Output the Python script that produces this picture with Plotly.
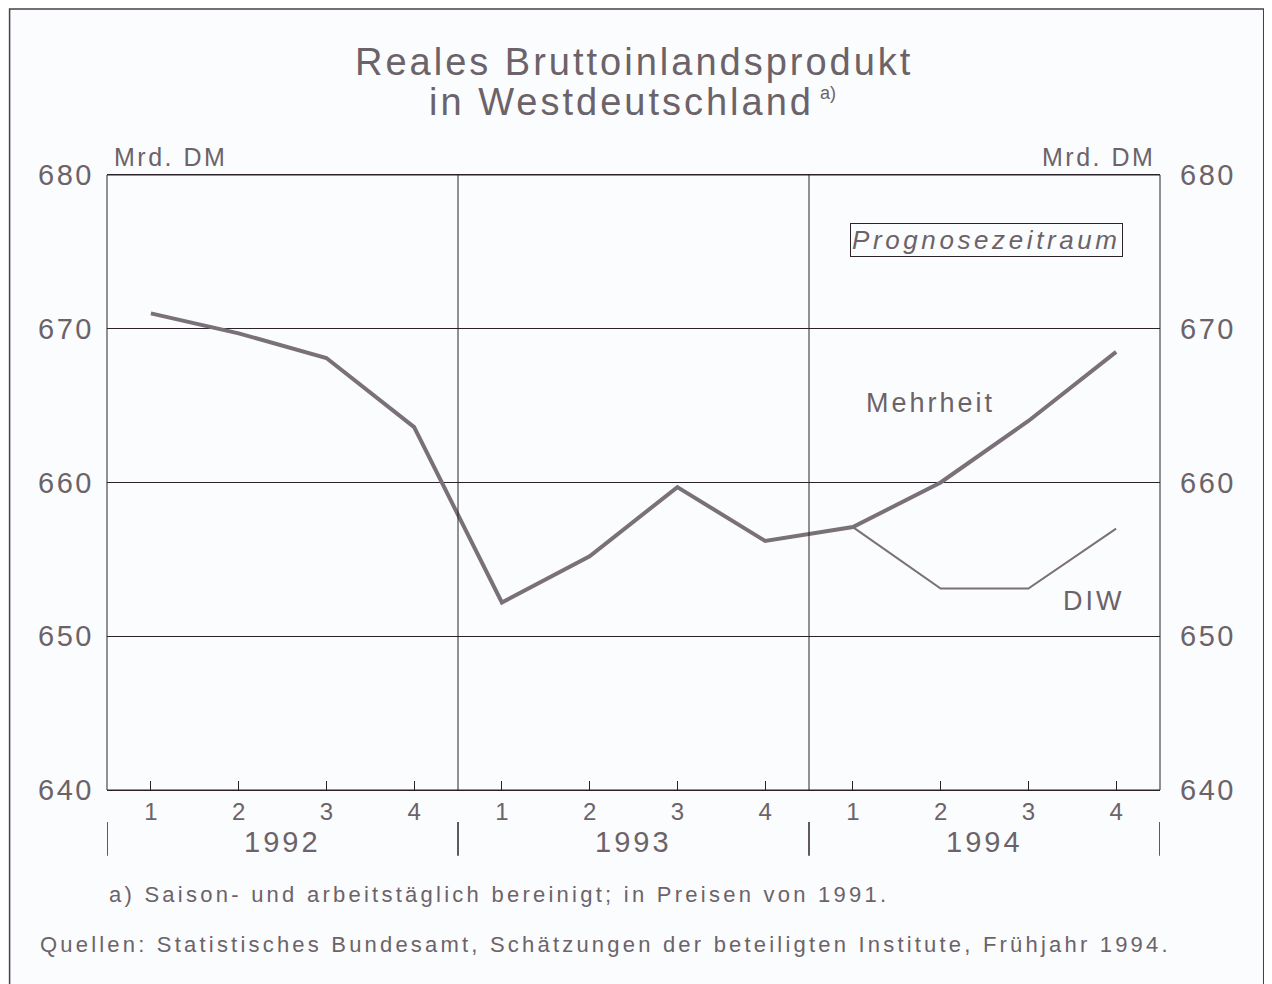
import plotly.graph_objects as go

# ---- data ----
quarter_labels = ["1", "2", "3", "4", "1", "2", "3", "4", "1", "2", "3", "4"]
quarter_pos = [1, 2, 3, 4, 5, 6, 7, 8, 9, 10, 11, 12]
years = ["1992", "1993", "1994"]
year_centers = [2.5, 6.5, 10.5]
year_bounds = [0.5, 4.5, 8.5, 12.5]
mehrheit = [671.0, 669.7, 668.1, 663.6, 652.2, 655.2, 659.7, 656.2, 657.1, 660.0, 664.0, 668.5]
diw_pos = [9, 10, 11, 12]
diw = [657.1, 653.1, 653.1, 657.0]
y_ticks = [640, 650, 660, 670, 680]

TXT = "#6b6369"
LINE = "#2b2329"
DATA = "#7a7078"
BG = "#fbfcfd"
FONT = "Liberation Sans, Arial, sans-serif"

def sp(s, ls=1.5):
    return f'<span style="letter-spacing:{ls}px">{s}</span>'

fig = go.Figure()
fig.add_trace(go.Scatter(x=quarter_pos, y=mehrheit, mode="lines",
                         line=dict(color=DATA, width=4), showlegend=False, hoverinfo="skip"))
fig.add_trace(go.Scatter(x=diw_pos, y=diw, mode="lines",
                         line=dict(color=DATA, width=2), showlegend=False, hoverinfo="skip"))
fig.add_trace(go.Scatter(x=[quarter_pos[0]], y=[mehrheit[0]], yaxis="y2", mode="markers",
                         marker=dict(opacity=0), showlegend=False, hoverinfo="skip"))

yax = dict(range=[640, 680], tickvals=y_ticks, ticktext=[sp(str(v), 2.5) for v in y_ticks],
           showgrid=True, gridcolor=LINE, gridwidth=1, zeroline=False, showline=False,
           ticks="", tickfont=dict(size=29, color=TXT, family=FONT), fixedrange=True)

fig.update_layout(
    width=1264, height=976,
    margin=dict(l=99, r=112, t=167, b=194),
    paper_bgcolor=BG, plot_bgcolor=BG,
    xaxis=dict(range=[0.5, 12.5], tickvals=quarter_pos, ticktext=quarter_labels,
               ticks="inside", ticklen=9, tickcolor=LINE, tickwidth=1,
               showline=True, linecolor=LINE, linewidth=1, mirror=True,
               showgrid=False, zeroline=False, ticklabelstandoff=0,
               tickfont=dict(size=24, color=TXT, family=FONT)),
    yaxis=dict(**yax, ticklabelstandoff=12),
    yaxis2=dict(**yax, overlaying="y", side="right", ticklabelstandoff=19),
    font=dict(family=FONT, color=TXT),
)
# plot frame
fig.add_shape(type="rect", xref="paper", yref="paper", x0=0, x1=1, y0=0, y1=1,
              line=dict(color=LINE, width=1))
# separators inside plot
for xb in year_bounds[1:-1]:
    fig.add_shape(type="line", xref="x", yref="paper", x0=xb, x1=xb, y0=0, y1=1,
                  line=dict(color=LINE, width=1))
# year separators below axis
for xb in year_bounds:
    fig.add_shape(type="line", xref="x", yref="paper", x0=xb, x1=xb, y0=-0.052, y1=-0.107,
                  line=dict(color=LINE, width=1.5))
for yc, yr in zip(year_centers, years):
    fig.add_annotation(x=yc, y=-0.0846, xref="x", yref="paper", text=sp(yr, 3),
                       showarrow=False, font=dict(size=29, color=TXT), yanchor="middle")
# outer border
fig.add_shape(type="rect", xref="paper", yref="paper", x0=-0.0925, x1=1.0985, y0=-0.35, y1=1.2699,
              line=dict(color="#4a4248", width=1.5))

# title
fig.add_annotation(x=0.5, y=1.1837, xref="paper", yref="paper", showarrow=False,
                   text=sp("Reales Bruttoinlandsprodukt", 3),
                   font=dict(size=38, color=TXT), yanchor="middle")
fig.add_annotation(x=0.489, y=1.1187, xref="paper", yref="paper", showarrow=False,
                   text=sp("in Westdeutschland", 3),
                   font=dict(size=38, color=TXT), yanchor="middle")
fig.add_annotation(x=0.6752, y=1.134, xref="paper", yref="paper", showarrow=False,
                   text="a)", font=dict(size=18, color=TXT), xanchor="left", yanchor="middle")
# unit labels
fig.add_annotation(x=0.005, y=1.0, xref="paper", yref="paper", showarrow=False,
                   text=sp("Mrd. DM", 2.5), font=dict(size=25, color=TXT),
                   xanchor="left", yanchor="bottom", yshift=2)
fig.add_annotation(x=0.997, y=1.0, xref="paper", yref="paper", showarrow=False,
                   text=sp("Mrd. DM", 2.5), font=dict(size=25, color=TXT),
                   xanchor="right", yanchor="bottom", yshift=2)
# in-plot labels
fig.add_annotation(x=10.52, y=675.8, xref="x", yref="y", showarrow=False,
                   text="<i>" + sp("Prognosezeitraum", 3.6) + "</i>", font=dict(size=26, color=TXT),
                   bordercolor=LINE, borderwidth=1, borderpad=1, bgcolor=BG)
fig.add_annotation(x=9.88, y=665.2, xref="x", yref="y", showarrow=False,
                   text=sp("Mehrheit", 3), font=dict(size=27, color=TXT))
fig.add_annotation(x=11.74, y=652.3, xref="x", yref="y", showarrow=False,
                   text=sp("DIW", 3), font=dict(size=27, color=TXT))
# footnotes
fig.add_annotation(x=0.0, y=-0.1707, xref="paper", yref="paper", showarrow=False,
                   text=sp("a) Saison- und arbeitstäglich bereinigt; in Preisen von 1991.", 3.25),
                   font=dict(size=22, color=TXT), xanchor="left", yanchor="middle")
fig.add_annotation(x=-0.0655, y=-0.252, xref="paper", yref="paper", showarrow=False,
                   text=sp("Quellen: Statistisches Bundesamt, Schätzungen der beteiligten Institute, Frühjahr 1994.", 3.2),
                   font=dict(size=22, color=TXT), xanchor="left", yanchor="middle")

fig.write_html("out.html")
